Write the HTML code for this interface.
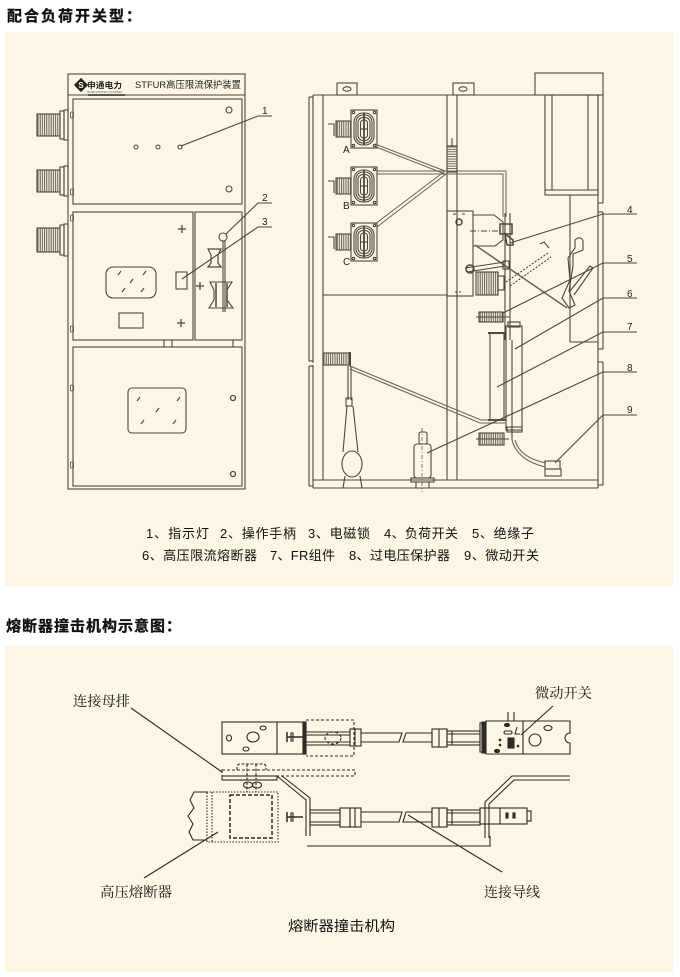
<!DOCTYPE html>
<html><head><meta charset="utf-8"><style>
html,body{margin:0;padding:0;background:#fff;}
svg{display:block;}
.s{font-family:"Liberation Sans","Noto Sans CJK SC",sans-serif;}
.sf{font-family:"Liberation Serif","Noto Serif CJK SC",serif;}
</style></head><body>
<svg width="680" height="977" viewBox="0 0 680 977" xmlns="http://www.w3.org/2000/svg">
<defs>
<pattern id="vr" width="2.2" height="10" patternUnits="userSpaceOnUse"><rect width="2.2" height="10" fill="#fdf6e4"/><line x1="0.6" y1="0" x2="0.6" y2="10" stroke="#4d463c" stroke-width="0.9"/></pattern>
<pattern id="hr" width="10" height="2.4" patternUnits="userSpaceOnUse"><rect width="10" height="2.4" fill="#fdf6e4"/><line x1="0" y1="0.6" x2="10" y2="0.6" stroke="#4d463c" stroke-width="0.8"/></pattern>
</defs>

<!-- titles -->
<text x="7" y="21" class="s" font-size="15" font-weight="bold" letter-spacing="2" fill="#111" stroke="#111" stroke-width="0.3">配合负荷开关型：</text>
<rect x="5" y="32" width="668" height="554" fill="#fdf6e4"/>
<text x="6" y="631" class="s" font-size="15" font-weight="bold" letter-spacing="1" fill="#111" stroke="#111" stroke-width="0.3">熔断器撞击机构示意图：</text>
<rect x="5" y="646" width="668" height="326" fill="#fdf6e4"/>

<g fill="none" stroke="#4d463c" stroke-width="1.1">
<!-- ===== Left cabinet ===== -->
<rect x="68" y="74" width="177" height="415"/>
<line x1="68" y1="95" x2="245" y2="95"/>
<line x1="88" y1="95" x2="125" y2="95" stroke="#222" stroke-width="1.5"/>
<rect x="73" y="99" width="169" height="105"/>
<circle cx="229" cy="110" r="3"/><circle cx="229" cy="189" r="3"/>
<circle cx="136" cy="147" r="2"/><circle cx="158" cy="147" r="2"/><circle cx="180" cy="147" r="2"/>
<!-- hinges -->
<g stroke-width="0.8">
<rect x="70.5" y="112" width="3" height="6" rx="1"/><rect x="70.5" y="189" width="3" height="6" rx="1"/><rect x="70.5" y="215" width="3" height="6" rx="1"/>
<rect x="70.5" y="326" width="3" height="6" rx="1"/><rect x="70.5" y="385" width="3" height="6" rx="1"/><rect x="70.5" y="462" width="3" height="6" rx="1"/>
</g>
<!-- bushings -->
<rect x="37" y="114" width="23" height="22" fill="url(#vr)"/><rect x="60" y="111" width="4" height="28"/><rect x="64" y="110" width="4" height="30"/>
<rect x="37" y="170" width="23" height="22" fill="url(#vr)"/><rect x="60" y="167" width="4" height="28"/><rect x="64" y="166" width="4" height="30"/>
<rect x="37" y="228" width="23" height="24" fill="url(#vr)"/><rect x="60" y="225" width="4" height="30"/><rect x="64" y="224" width="4" height="32"/>
<!-- middle doors -->
<rect x="73" y="212" width="120" height="128"/>
<rect x="195" y="212" width="47" height="128"/>
<rect x="106" y="267" width="50" height="31" rx="7"/>
<g stroke-width="1.2"><line x1="118" y1="275" x2="121" y2="271"/><line x1="143" y1="275" x2="146" y2="271"/><line x1="130" y1="283" x2="133" y2="279"/><line x1="122" y1="292" x2="125" y2="288"/><line x1="141" y1="292" x2="144" y2="288"/></g>
<rect x="176" y="272" width="11" height="17"/>
<rect x="119" y="313" width="24" height="15"/>
<g stroke-width="1.3"><path d="M178 229h8M182 225v8"/><path d="M177 323h8M181 319v8"/><path d="M196 286h8M200 282v8"/></g>
<!-- handle & lock -->
<line x1="223" y1="241" x2="223" y2="312"/><line x1="225" y1="241" x2="225" y2="312"/>
<circle cx="223" cy="237" r="4"/>
<path d="M208 249h13l-3 6v8l3 4h-13l3-4v-8z" stroke-width="1.2"/>
<path d="M210 282h22l-5 8v10l6 8h-24l5-8v-10z"/>
<line x1="216" y1="283" x2="216" y2="307" stroke-width="1.5"/><line x1="227" y1="283" x2="227" y2="307" stroke-width="1.5"/>
<!-- between -->
<line x1="164" y1="340" x2="164" y2="347"/><line x1="172" y1="340" x2="172" y2="347"/><line x1="233" y1="340" x2="233" y2="347"/>
<!-- bottom door -->
<rect x="73" y="347" width="169" height="139"/>
<rect x="128" y="388" width="58" height="45" rx="4"/>
<g stroke-width="1.2"><line x1="137" y1="401" x2="140" y2="397"/><line x1="177" y1="401" x2="180" y2="397"/><line x1="156" y1="412" x2="159" y2="408"/><line x1="141" y1="424" x2="144" y2="420"/><line x1="173" y1="424" x2="176" y2="420"/></g>
<circle cx="233" cy="398" r="2.5" stroke-width="1.3"/><circle cx="233" cy="474" r="2.5" stroke-width="1.3"/>
<!-- leaders 1,2,3 -->
<path d="M181 146L258 116H272"/>
<path d="M226 234L258 203H272"/>
<path d="M182 279L258 227H272"/>

<!-- ===== Right cabinet ===== -->
<line x1="309" y1="97" x2="309" y2="361"/><line x1="313" y1="95" x2="313" y2="363"/>
<line x1="309" y1="97" x2="313" y2="97"/><line x1="309" y1="361" x2="313" y2="361"/>
<line x1="309" y1="366" x2="309" y2="486"/><line x1="313" y1="365" x2="313" y2="488"/>
<line x1="309" y1="366" x2="313" y2="366"/><line x1="309" y1="486" x2="313" y2="486"/>
<line x1="323" y1="95" x2="323" y2="480"/>
<line x1="313" y1="95" x2="545" y2="95"/>
<rect x="337" y="83" width="20" height="12"/><ellipse cx="347" cy="89" rx="4" ry="2.2"/>
<rect x="453" y="83" width="21" height="12"/><ellipse cx="463" cy="89" rx="4" ry="2.2"/>
<line x1="447" y1="95" x2="447" y2="480"/><line x1="457" y1="95" x2="457" y2="480"/>
<line x1="323" y1="295" x2="447" y2="295"/>
<line x1="313" y1="480" x2="598" y2="480"/><line x1="313" y1="488" x2="598" y2="488"/>
<!-- right top -->
<rect x="535" y="73" width="68" height="22"/>
<rect x="545" y="95" width="53" height="100"/>
<line x1="552" y1="95" x2="552" y2="190"/><line x1="588" y1="95" x2="588" y2="190"/><line x1="545" y1="190" x2="598" y2="190"/>
<line x1="598" y1="95" x2="598" y2="488"/>
<line x1="603" y1="95" x2="603" y2="203"/><line x1="598" y1="203" x2="603" y2="203"/>
<line x1="603" y1="212" x2="603" y2="349"/><line x1="598" y1="212" x2="603" y2="212"/><line x1="598" y1="349" x2="603" y2="349"/>
<line x1="603" y1="362" x2="603" y2="485"/><line x1="598" y1="362" x2="603" y2="362"/><line x1="598" y1="485" x2="603" y2="485"/>
<line x1="570" y1="195" x2="570" y2="342"/><line x1="570" y1="342" x2="598" y2="342"/>
<!-- insulators A B C -->
<g id="ins">
<rect x="351" y="110" width="26" height="38"/>
<rect x="354" y="113" width="20" height="32" rx="9"/>
<rect x="356" y="115" width="16" height="28" rx="7"/>
<rect x="358" y="117.5" width="12" height="23" rx="5"/>
<rect x="360.5" y="120" width="7" height="18" rx="3"/>
<line x1="364" y1="113" x2="364" y2="145" stroke-width="1.8"/>
<line x1="360" y1="129" x2="368" y2="129"/>
<circle cx="353.5" cy="112.5" r="1.2"/><circle cx="374.5" cy="112.5" r="1.2"/><circle cx="353.5" cy="145.5" r="1.2"/><circle cx="374.5" cy="145.5" r="1.2"/>
<rect x="336" y="121" width="15" height="16" fill="url(#vr)"/>
<path d="M328 124H334V136"/>
</g>
<use href="#ins" transform="translate(0,57)"/>
<use href="#ins" transform="translate(0,113)"/>
<!-- wires -->
<g stroke="#6a6252" stroke-width="1">
<path d="M375 144L445 171M376 147L445 174"/>
<path d="M375 224L445 171M377 227L446 174"/>
<path d="M377 171H506V217M377 174H503V217"/>
</g>
<rect x="447" y="146" width="10" height="26" fill="url(#hr)"/>
<line x1="452" y1="138" x2="452" y2="146"/>
<!-- load switch -->
<rect x="447" y="211" width="26" height="85"/>
<circle cx="459" cy="222" r="3" stroke-width="1.5"/>
<path d="M453 214h3M462 214h3M455 292h2M459 292h2"/>
<path d="M473 215H494L503 222V240L495 246H473"/>
<line x1="470" y1="231" x2="500" y2="231" stroke-dasharray="6 2 1 2"/>
<line x1="505" y1="213" x2="505" y2="340"/><line x1="510" y1="213" x2="510" y2="340"/>
<rect x="500" y="224" width="12" height="10" stroke-width="1.5"/>
<path d="M505 234l8 6v5h-6z" stroke-width="1.5"/>
<line x1="475" y1="245" x2="567" y2="308" stroke="#6a6252" stroke-width="1.5"/>
<rect x="476" y="272" width="22" height="23" fill="url(#vr)"/>
<rect x="498" y="276" width="6" height="14"/>
<path d="M465 268L505 262M467 272L505 266"/>
<circle cx="470" cy="269" r="4" stroke-width="1.5"/>
<rect x="503" y="261" width="6" height="8"/>
<path d="M506 282L548 253M510 286L551 257" stroke-dasharray="2 1.5"/>
<path d="M540 244l4 -2l5 6"/>
<!-- right lever -->
<path d="M575 240c4 -4 8 -2 8 2v8l-10 4v12l-4 25l6 14l-6 3l-7 -10l8 -18l-2 -22l7 -10z"/>
<path d="M570 291l20 -25l3 2l-19 27"/>
<!-- 5 insulator -->
<rect x="479" y="312" width="24" height="10" fill="url(#vr)"/>
<line x1="476" y1="317" x2="509" y2="317"/>
<!-- fuse 6 & FR 7 -->
<rect x="506" y="326" width="16" height="104"/>
<rect x="508" y="322" width="12" height="5"/>
<rect x="490" y="333" width="14" height="87"/>
<line x1="488" y1="333" x2="506" y2="333" stroke-width="2"/>
<line x1="488" y1="420" x2="506" y2="420" stroke-width="2"/>
<rect x="507" y="427" width="15" height="5"/>
<line x1="512" y1="340" x2="512" y2="440"/>
<rect x="479" y="433" width="25" height="12" fill="url(#vr)"/>
<line x1="476" y1="439" x2="509" y2="439"/>
<path d="M512 440Q517 460 545 467M515 440Q520 458 546 463" stroke="#6a6252"/>
<rect x="545" y="461" width="15" height="8"/>
<rect x="545" y="469" width="16" height="7"/>
<!-- left lower -->
<rect x="323" y="353" width="27" height="12" fill="url(#vr)"/>
<line x1="350" y1="352" x2="350" y2="366" stroke-width="2"/>
<path d="M350 366L481 420H505M350 369L480 423H505" stroke="#6a6252"/>
<line x1="348" y1="366" x2="348" y2="400"/><line x1="351" y1="366" x2="351" y2="400"/>
<rect x="346" y="398" width="6" height="8"/>
<path d="M347 406L343 452M353 406L358 452"/>
<ellipse cx="352" cy="464" rx="10" ry="13"/>
<path d="M345 476L343 488M360 476L362 488"/>
<!-- arrester 8 -->
<rect x="419" y="432" width="8" height="12" rx="2"/>
<rect x="414" y="444" width="17" height="34" rx="3"/>
<line x1="422" y1="428" x2="422" y2="492" stroke-dasharray="4 2 1 2" stroke-width="0.7"/>
<rect x="411" y="478" width="23" height="4"/>
<line x1="416" y1="482" x2="416" y2="488"/><line x1="429" y1="482" x2="429" y2="488"/>
<!-- leaders 4-9 -->
<path d="M510 243L603 214H637"/>
<path d="M503 313L603 263H637"/>
<path d="M515 349L603 298H637"/>
<path d="M497 387L603 332H637"/>
<path d="M427 453L603 372H637"/>
<path d="M555 463L603 415H637"/>
</g>

<!-- logo / header text -->
<g transform="translate(81,85) rotate(45)"><rect x="-5" y="-5" width="10" height="10" fill="#222"/></g>
<text x="81" y="88" font-size="8" font-weight="bold" fill="#fdf6e4" text-anchor="middle" class="s">S</text>
<text x="87" y="88" class="s" font-size="8" font-weight="bold" fill="#222" textLength="35" lengthAdjust="spacingAndGlyphs">申通电力</text>
<text x="87" y="93" class="s" font-size="3" fill="#555" textLength="35" lengthAdjust="spacingAndGlyphs">SHENTONG POWER</text>
<text x="135" y="88" class="s" font-size="9.5" fill="#222" textLength="106" lengthAdjust="spacingAndGlyphs">STFUR高压限流保护装置</text>

<!-- number labels -->
<g class="s" font-size="10" fill="#222">
<text x="262" y="114">1</text><text x="262" y="201">2</text><text x="262" y="225">3</text>
<text x="627" y="213">4</text><text x="627" y="262">5</text><text x="627" y="297">6</text>
<text x="627" y="330">7</text><text x="627" y="371">8</text><text x="627" y="413">9</text>
</g>
<g class="s" font-size="10" fill="#222">
<text x="343" y="153">A</text><text x="343" y="209">B</text><text x="343" y="265">C</text>
</g>

<!-- legend -->
<g class="s" font-size="13" fill="#111" lengthAdjust="spacingAndGlyphs">
<text x="146" y="538" textLength="63">1、指示灯</text>
<text x="220" y="538" textLength="76">2、操作手柄</text>
<text x="308" y="538" textLength="62">3、电磁锁</text>
<text x="384" y="538" textLength="74">4、负荷开关</text>
<text x="472" y="538" textLength="62">5、绝缘子</text>
<text x="142" y="560" textLength="115">6、高压限流熔断器</text>
<text x="270" y="560" textLength="65">7、FR组件</text>
<text x="349" y="560" textLength="101">8、过电压保护器</text>
<text x="464" y="560" textLength="75">9、微动开关</text>
</g>

<!-- ===== Panel 2 drawing ===== -->
<g fill="none" stroke="#2e2a25" stroke-width="1.1">
<!-- top assembly -->
<rect x="222" y="722" width="84" height="32"/>
<line x1="277" y1="722" x2="277" y2="754"/>
<ellipse cx="253" cy="737" rx="6" ry="5"/>
<ellipse cx="263" cy="728" rx="3" ry="2"/><ellipse cx="246" cy="749" rx="3" ry="2"/><ellipse cx="229" cy="738" rx="2.5" ry="3"/>
<rect x="303" y="722" width="3" height="32" fill="#2e2a25"/>
<line x1="287" y1="732" x2="287" y2="742" stroke-width="1.5"/><line x1="287" y1="737" x2="303" y2="737" stroke-width="1.5"/>
<rect x="291" y="733" width="2" height="8"/>
<path d="M306 720H354V756H306" stroke-dasharray="3 2"/>
<path d="M306 732H350M306 745H350M306 735H350M306 742H350"/>
<ellipse cx="333" cy="738" rx="8" ry="6" stroke-dasharray="3 2"/>
<rect x="350" y="729" width="11" height="17"/><line x1="355" y1="729" x2="355" y2="746"/>
<path d="M361 733H402L399 742H361"/>
<path d="M406 733H432V742H403Z"/>
<rect x="432" y="729" width="15" height="18"/><line x1="439" y1="729" x2="439" y2="747"/>
<rect x="447" y="731" width="33" height="14"/><line x1="447" y1="734" x2="480" y2="734"/><line x1="447" y1="742" x2="480" y2="742"/><line x1="452" y1="731" x2="452" y2="745"/>
<!-- micro switch plate -->
<path d="M480 723H486V721H570V733A5 5 0 0 0 570 743V754H486V752H480Z"/>
<rect x="482" y="722" width="4" height="31" fill="#2e2a25"/>
<line x1="523" y1="721" x2="523" y2="754"/>
<line x1="508" y1="712" x2="508" y2="721"/><line x1="514" y1="712" x2="514" y2="721"/>
<ellipse cx="507" cy="725" rx="2.5" ry="1.6" fill="#2e2a25"/>
<ellipse cx="497" cy="751" rx="2.5" ry="1.6" fill="#2e2a25"/>
<rect x="508" y="738" width="6" height="10" fill="#2e2a25"/>
<rect x="504" y="731" width="8" height="3" rx="1.5"/>
<path d="M517 727L515 734H520"/>
<circle cx="535" cy="740" r="6"/><ellipse cx="548" cy="728" rx="4" ry="2.5"/>
<circle cx="500" cy="740" r="0.8" fill="#2e2a25"/><circle cx="500" cy="745" r="0.8" fill="#2e2a25"/><circle cx="518" cy="746" r="0.8" fill="#2e2a25"/>
<!-- busbar -->
<rect x="222" y="770" width="133" height="6" stroke-dasharray="3 2"/>
<rect x="222" y="776" width="55" height="4"/>
<path d="M237 770V767Q237 764 241 764H262Q266 764 266 767V770" stroke-dasharray="3 1.5"/>
<line x1="247" y1="764" x2="247" y2="792" stroke-dasharray="3 1.5"/><line x1="256" y1="764" x2="256" y2="792" stroke-dasharray="3 1.5"/>
<ellipse cx="248" cy="785" rx="4.5" ry="3"/><ellipse cx="257" cy="785" rx="4.5" ry="3"/>
<!-- left bracket -->
<path d="M277 776L306 800V836M282 776L310 798V836"/>
<!-- right bracket -->
<path d="M485 838V802L512 776H570M489 838V804L514 780H570"/>
<path d="M307 846H490V836"/>
<!-- fuse dashed -->
<rect x="207" y="792" width="71" height="50" stroke-dasharray="1.5 1.5"/>
<line x1="212" y1="792" x2="212" y2="842" stroke-dasharray="1.5 1.5"/>
<rect x="230" y="795" width="42" height="43" stroke-dasharray="4 2" stroke-width="1.5"/>
<path d="M207 792H194L190 800L194 808L188 816L193 824L189 832L193 840H207"/>
<!-- bottom assembly -->
<line x1="287" y1="812" x2="287" y2="822" stroke-width="1.5"/><line x1="287" y1="817" x2="303" y2="817" stroke-width="1.5"/>
<rect x="291" y="813" width="2" height="8"/>
<rect x="310" y="810" width="30" height="15"/><line x1="310" y1="813" x2="340" y2="813"/><line x1="310" y1="822" x2="340" y2="822"/>
<rect x="340" y="808" width="10" height="19"/><rect x="350" y="808" width="11" height="19"/><line x1="355" y1="808" x2="355" y2="827"/>
<path d="M361 812H402L399 822H361"/>
<path d="M406 812H432V822H403Z"/>
<rect x="432" y="808" width="15" height="19"/><line x1="439" y1="808" x2="439" y2="827"/>
<rect x="447" y="810" width="33" height="15"/><line x1="447" y1="813" x2="480" y2="813"/><line x1="447" y1="822" x2="480" y2="822"/><line x1="452" y1="810" x2="452" y2="825"/>
<rect x="480" y="808" width="47" height="16"/>
<line x1="500" y1="808" x2="500" y2="824"/>
<rect x="506" y="813" width="2" height="5" fill="#2e2a25"/><rect x="513" y="813" width="2" height="5" fill="#2e2a25"/>
<rect x="527" y="811" width="4" height="10"/>
<!-- leaders -->
<line x1="131" y1="708" x2="222" y2="772"/>
<line x1="144" y1="878" x2="218" y2="832"/>
<line x1="502" y1="872" x2="408" y2="815"/>
<line x1="553" y1="706" x2="521" y2="735"/>
</g>

<g class="sf" font-size="14" fill="#111">
<text x="73" y="706" textLength="57" lengthAdjust="spacingAndGlyphs">连接母排</text>
<text x="535" y="698" textLength="57" lengthAdjust="spacingAndGlyphs">微动开关</text>
<text x="100" y="897" textLength="72" lengthAdjust="spacingAndGlyphs">高压熔断器</text>
<text x="484" y="897" textLength="56" lengthAdjust="spacingAndGlyphs">连接导线</text>
</g>
<text x="288" y="931" class="s" font-size="14" fill="#111" textLength="107" lengthAdjust="spacingAndGlyphs">熔断器撞击机构</text>
</svg>
</body></html>
